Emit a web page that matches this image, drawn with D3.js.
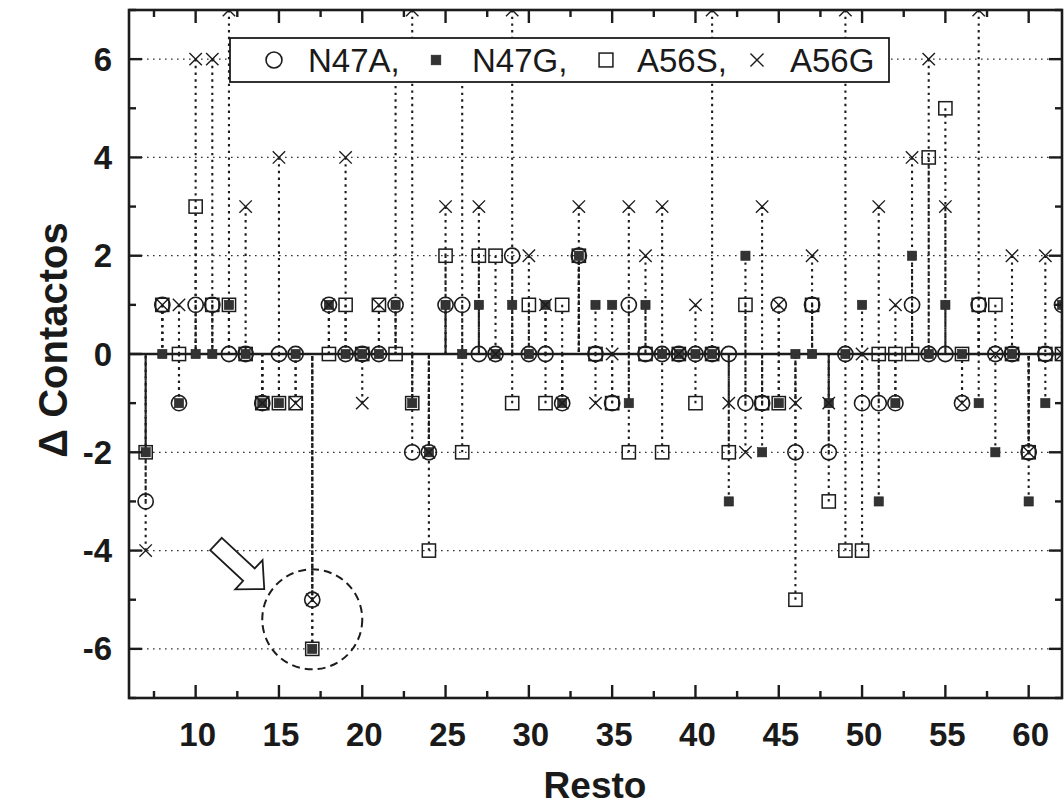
<!DOCTYPE html>
<html>
<head>
<meta charset="utf-8">
<script src="https://cdn.jsdelivr.net/npm/d3@7"></script>
<style>
  body { margin: 0; background: #fff; }
  svg { display: block; }
  text { font-family: "Liberation Sans", Arial, sans-serif; fill: #1a1a1a; }
</style>
</head>
<body>
<svg id="chart" width="1064" height="809"></svg>
<script>
// Residue numbers along the sequence
const residues = [7, 8, 9, 10, 11, 12, 13, 14, 15, 16, 17, 18, 19, 20, 21, 22, 23, 24, 25, 26,
  27, 28, 29, 30, 31, 32, 33, 34, 35, 36, 37, 38, 39, 40, 41, 42, 43, 44, 45, 46,
  47, 48, 49, 50, 51, 52, 53, 54, 55, 56, 57, 58, 59, 60, 61, 62];

// Change in number of contacts per residue, one array per mutant
const n47a = [-3, 1, -1, 1, 1, 0, 0, -1, 0, 0, -5, 1, 0, 0, 0, 1, -2, -2, 1, 1,
  0, 0, 2, 0, 0, -1, 2, 0, -1, 1, 0, 0, 0, 0, 0, 0, -1, -1, 1, -2,
  1, -2, 0, -1, -1, -1, 1, 0, 0, -1, 1, 0, 0, -2, 0, 1];
const n47g = [-2, 0, -1, 0, 0, 1, 0, -1, -1, 0, -6, 1, 0, 0, 0, 1, -1, -2, 1, 0,
  1, 0, 1, 0, 1, -1, 2, 1, 1, -1, 1, 0, 0, 0, 0, -3, 2, -2, -1, 0,
  0, -1, 0, 1, -3, -1, 2, 0, 1, 0, -1, -2, 0, -3, -1, 1];
const a56s = [-2, 1, 0, 3, 1, 1, 0, -1, -1, -1, -6, 0, 1, 0, 1, 0, -1, -4, 2, -2,
  2, 2, -1, 1, -1, 1, 2, 0, -1, -2, 0, -2, 0, -1, 0, -2, 1, -1, -1, -5,
  1, -3, -4, -4, 0, 0, 0, 4, 5, 0, 1, 1, 0, -2, 0, 0];
const a56g = [-4, 1, 1, 6, 6, 7, 3, -1, 4, -1, -5, 1, 4, -1, 1, 6, 7, -2, 3, 6,
  3, 0, 7, 2, 1, -1, 3, -1, 0, 3, 2, 3, 0, 1, 7, -1, -2, 3, 1, -1,
  2, -1, 7, 0, 3, 1, 4, 6, 3, -1, 7, 0, 2, -2, 2, 0];

const seriesNames = ["N47A", "N47G", "A56S", "A56G"];
const yMajorTicks = [-6, -4, -2, 0, 2, 4, 6];
const yMinorTicks = [-7, -5, -3, -1, 1, 3, 5, 7];
const xMajorTicks = [10, 15, 20, 25, 30, 35, 40, 45, 50, 55, 60];
const xMinorTicks = [7.5, 12.5, 17.5, 22.5, 27.5, 32.5, 37.5, 42.5, 47.5, 52.5, 57.5];

const ink = "#1c1c1c";
const svg = d3.select("#chart");

const x = d3.scaleLinear().domain([6, 62]).range([129, 1062]);
const y = d3.scaleLinear().domain([-7, 7]).range([698, 10]);
const [x0, x1] = x.range();
const [y1, y0] = y.range();

const series = [
  { name: seriesNames[0], shape: "circle", values: n47a },
  { name: seriesNames[1], shape: "filled", values: n47g },
  { name: seriesNames[2], shape: "square", values: a56s },
  { name: seriesNames[3], shape: "cross", values: a56g }
];

// Clip region for the plot area
svg.append("defs").append("clipPath").attr("id", "plot-clip")
  .append("rect").attr("x", x0).attr("y", y0 - 1).attr("width", x1 - x0).attr("height", y1 - y0 + 2);

const plot = svg.append("g").attr("clip-path", "url(#plot-clip)");

// Dotted horizontal grid at the labelled values
plot.append("g").selectAll("line")
  .data(yMajorTicks.filter(v => v !== 0))
  .join("line")
  .attr("x1", x0).attr("x2", x1)
  .attr("y1", d => y(d)).attr("y2", d => y(d))
  .attr("stroke", "#333").attr("stroke-width", 1.3)
  .attr("stroke-dasharray", "1.6,4.4");

// Zero reference line
plot.append("line")
  .attr("x1", x0).attr("x2", x1).attr("y1", y(0)).attr("y2", y(0))
  .attr("stroke", ink).attr("stroke-width", 2.4);

// Dotted drop lines from each point back to zero; the dash pattern starts at the marker,
// so overlapping drops of different lengths combine into denser strokes.
const unit = Math.abs(y(1) - y(0));
const period = unit / (7 + 1 / 3);
const dropData = [];
series.forEach(s => s.values.forEach((v, i) => {
  if (v !== 0) dropData.push({ r: residues[i], v });
}));
plot.append("g").selectAll("path")
  .data(dropData)
  .join("path")
  .attr("d", d => `M${x(d.r)},${y(d.v)}L${x(d.r)},${y(0)}`)
  .attr("fill", "none")
  .attr("stroke", ink).attr("stroke-width", 2.1)
  .attr("stroke-dasharray", `${(period * 0.36).toFixed(2)},${(period * 0.64).toFixed(2)}`);

// Marker drawing
function drawMarker(g, shape, cx, cy, scale = 1) {
  if (shape === "circle") {
    g.append("circle").attr("cx", cx).attr("cy", cy).attr("r", 7.6 * scale)
      .attr("fill", "none").attr("stroke", ink).attr("stroke-width", 1.6);
  } else if (shape === "square") {
    const h = 6.6 * scale;
    g.append("rect").attr("x", cx - h).attr("y", cy - h).attr("width", 2 * h).attr("height", 2 * h)
      .attr("fill", "none").attr("stroke", ink).attr("stroke-width", 1.5);
  } else if (shape === "filled") {
    const h = 4.6 * scale;
    g.append("rect").attr("x", cx - h).attr("y", cy - h).attr("width", 2 * h).attr("height", 2 * h)
      .attr("fill", "#333").attr("stroke", "#222").attr("stroke-width", 0.6);
  } else if (shape === "cross") {
    const h = 6.2 * scale;
    g.append("path").attr("d", `M${cx - h},${cy - h}L${cx + h},${cy + h}M${cx - h},${cy + h}L${cx + h},${cy - h}`)
      .attr("fill", "none").attr("stroke", ink).attr("stroke-width", 1.4);
  }
}

const markers = plot.append("g");
["square", "circle", "filled", "cross"].forEach(shape => {
  const s = series.find(d => d.shape === shape);
  s.values.forEach((v, i) => drawMarker(markers, shape, x(residues[i]), y(v)));
});

// Legend
const legend = svg.append("g");
legend.append("rect").attr("x", 230).attr("y", 38).attr("width", 659).attr("height", 44)
  .attr("fill", "#fff").attr("stroke", ink).attr("stroke-width", 1.8);
const legendItems = [
  { shape: "circle", mx: 274, tx: 308, label: seriesNames[0] + "," },
  { shape: "filled", mx: 436, tx: 472, label: seriesNames[1] + "," },
  { shape: "square", mx: 606, tx: 637, label: seriesNames[2] + "," },
  { shape: "cross", mx: 757, tx: 790, label: seriesNames[3] }
];
legendItems.forEach(it => {
  drawMarker(legend, it.shape, it.mx, 60, 1.05);
  legend.append("text").attr("x", it.tx).attr("y", 72)
    .attr("font-size", 33).text(it.label);
});

// Annotation around residue 17: dashed ring and hollow block arrow
svg.append("circle")
  .attr("cx", x(17)).attr("cy", y(-5.4)).attr("r", 50)
  .attr("fill", "none").attr("stroke", ink).attr("stroke-width", 2)
  .attr("stroke-dasharray", "8,5");
(function () {
  const L = 66, head = 21, sw = 8.5, hw = 20;
  const pts = [[0, -sw], [L - head, -sw], [L - head, -hw], [L, 0], [L - head, hw], [L - head, sw], [0, sw]];
  const ang = Math.PI * 43 / 180;
  const ox = 216, oy = 544;
  const rot = pts.map(([a, b]) => [ox + a * Math.cos(ang) - b * Math.sin(ang), oy + a * Math.sin(ang) + b * Math.cos(ang)]);
  svg.append("path").attr("d", "M" + rot.map(p => p.join(",")).join("L") + "Z")
    .attr("fill", "#fff").attr("stroke", ink).attr("stroke-width", 1.8).attr("stroke-linejoin", "miter");
})();

// Axes: ticks point inwards on all four sides
const axes = svg.append("g");
function tickLines(values, len, side) {
  axes.append("g").selectAll("line").data(values).join("line")
    .each(function (d) {
      const l = d3.select(this);
      if (side === "bottom") l.attr("x1", x(d)).attr("x2", x(d)).attr("y1", y1).attr("y2", y1 - len);
      if (side === "top") l.attr("x1", x(d)).attr("x2", x(d)).attr("y1", y0).attr("y2", y0 + len);
      if (side === "left") l.attr("y1", y(d)).attr("y2", y(d)).attr("x1", x0).attr("x2", x0 + len);
      if (side === "right") l.attr("y1", y(d)).attr("y2", y(d)).attr("x1", x1).attr("x2", x1 - len);
    })
    .attr("stroke", ink).attr("stroke-width", 2.4);
}
tickLines(xMajorTicks, 13, "bottom");
tickLines(xMinorTicks, 7, "bottom");
tickLines(xMajorTicks, 13, "top");
tickLines(xMinorTicks, 7, "top");
tickLines(yMajorTicks, 13, "left");
tickLines(yMinorTicks, 7, "left");
tickLines(yMajorTicks, 13, "right");
tickLines(yMinorTicks, 7, "right");

axes.append("rect").attr("x", x0).attr("y", y0).attr("width", x1 - x0).attr("height", y1 - y0)
  .attr("fill", "none").attr("stroke", ink).attr("stroke-width", 2.6);

// Tick labels
axes.append("g").selectAll("text").data(xMajorTicks).join("text")
  .attr("x", d => x(d) + 2).attr("y", 746)
  .attr("text-anchor", "middle").attr("font-size", 33).attr("font-weight", "bold")
  .text(d => d);
axes.append("g").selectAll("text").data(yMajorTicks).join("text")
  .attr("x", 112).attr("y", d => y(d) + 11.5)
  .attr("text-anchor", "end").attr("font-size", 33).attr("font-weight", "bold")
  .text(d => d);

// Axis titles
svg.append("text").attr("x", 595).attr("y", 798)
  .attr("text-anchor", "middle").attr("font-size", 37).attr("font-weight", "bold")
  .text("Resto");
svg.append("text").attr("transform", `translate(67,340) rotate(-90)`)
  .attr("text-anchor", "middle").attr("font-size", 40).attr("font-weight", "bold")
  .text("Δ Contactos");
</script>
</body>
</html>
